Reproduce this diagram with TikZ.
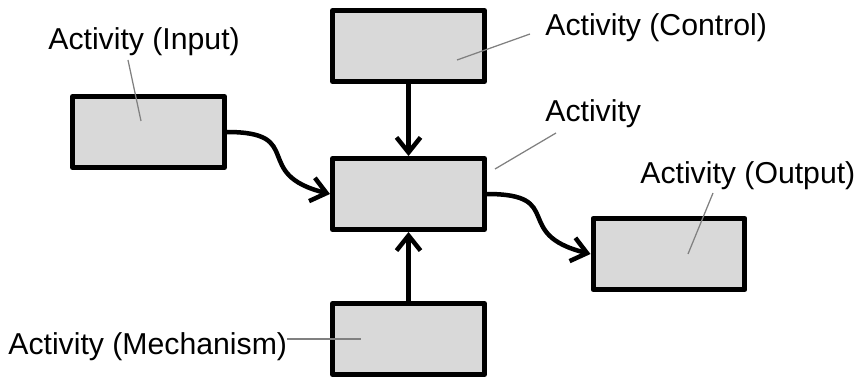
\documentclass[tikz,border=0pt]{standalone}
\usepackage{fontspec}
\setmainfont{Liberation Sans}
\usetikzlibrary{arrows.meta}

\begin{document}
\begin{tikzpicture}[x=0.02cm,y=-0.02cm,
		actbox/.style={draw=black,line width=0.1cm,line join=round,fill=actgray,inner sep=0pt,
			minimum width=3.04cm,minimum height=1.42cm},
		actlabel/.style={anchor=base west,inner sep=0pt,font=\fontsize{17.2}{20}\selectfont},
		leader/.style={draw=leadgray,line width=0.025cm},
		flow/.style={line width=0.09cm,-{Straight Barb[length=0.3cm,width=0.48cm]}}]
	\definecolor{actgray}{HTML}{D9D9D9}
	\definecolor{leadgray}{HTML}{808080}
	\useasboundingbox (0,0) rectangle (858,378);

	% boxes
	\node[actbox] (input) at (148.5,132) {};
	\node[actbox] (control) at (408.5,46) {};
	\node[actbox] (act) at (408.5,194) {};
	\node[actbox] (output) at (669,254) {};
	\node[actbox] (mech) at (408.5,339) {};

	% arrows
	\draw[flow] (control.south) -- (act.north);
	\draw[flow] (mech.north) -- (act.south);
	\draw[flow] (input.east) .. controls +(80,0) and +(-80,-20) .. (act.west);
	\draw[flow] (act.east) .. controls +(80,0) and +(-80,-20) .. (output.west);

	% labels
	\node[actlabel] (linput) at (48,50) {Activity (Input)};
	\node[actlabel] (lcontrol) at (545,36) {Activity (Control)};
	\node[actlabel] (lact) at (545,122) {Activity};
	\node[actlabel] (loutput) at (640,184) {Activity (Output)};
	\node[actlabel] (lmech) at (8,354) {Activity (Mechanism)};

	% leader lines
	\coordinate (pinput) at (141,121);
	\coordinate (pcontrol) at (457,60);
	\coordinate (pact) at (495,169);
	\coordinate (poutput) at (688,254);
	\coordinate (pmech) at (361,339);
	\draw[leader] (128,60) -- (pinput);
	\draw[leader] (530,34) -- (pcontrol);
	\draw[leader] (556,133) -- (pact);
	\draw[leader] (713,193) -- (poutput);
	\draw[leader] (lmech.east |- pmech) -- (pmech);
\end{tikzpicture}
\end{document}
